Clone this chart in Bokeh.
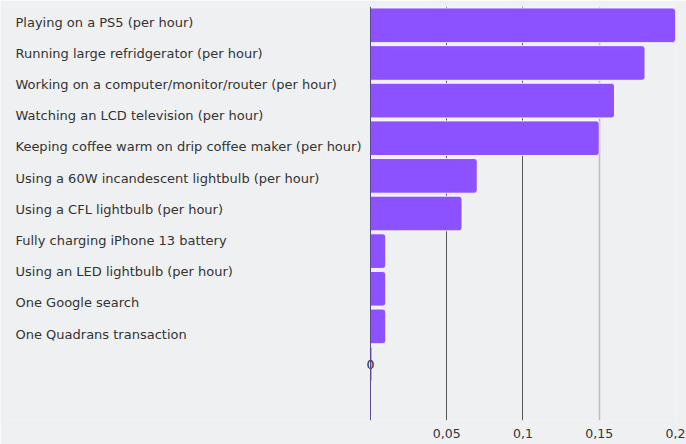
from bokeh.plotting import figure
from bokeh.models import Range1d, FixedTicker, Grid, Span
from bokeh.core.properties import value
from bokeh.embed import file_html
from bokeh.resources import INLINE

# ---- data ----
activities = [
    "Playing on a PS5 (per hour)",
    "Running large refridgerator (per hour)",
    "Working on a computer/monitor/router (per hour)",
    "Watching an LCD television (per hour)",
    "Keeping coffee warm on drip coffee maker (per hour)",
    "Using a 60W incandescent lightbulb (per hour)",
    "Using a CFL lightbulb (per hour)",
    "Fully charging iPhone 13 battery",
    "Using an LED lightbulb (per hour)",
    "One Google search",
    "One Quadrans transaction",
]
kwh = [0.2, 0.18, 0.16, 0.15, 0.07, 0.06, 0.01, 0.01, 0.01, 0.001, 0.0003]
tick_values = [0.05, 0.1, 0.15, 0.2]
tick_labels = ["0,05", "0,1", "0,15", "0,2"]
data_label_category = "One Google search"
data_label_text = "0"

BG = "#EFF0F2"
BAR = "#8C52FF"
FONT = "DejaVu Sans"

n = len(activities)
slots = [i + 0.5 for i in range(n)]

p = figure(
    width=686, height=444,
    y_range=Range1d(n, 0),
    x_range=Range1d(-0.24262, 0.2),
    output_backend="svg", toolbar_location=None,
    min_border_left=0, min_border_right=11, min_border_top=6, min_border_bottom=24,
)
p.background_fill_color = BG
p.border_fill_color = BG
p.outline_line_color = None

p.extra_x_ranges["px"] = Range1d(0, 675)
p.extra_y_ranges["lab"] = Range1d(13.27, 0)

# grid
p.ygrid.visible = False
p.xgrid.ticker = FixedTicker(ticks=[t for t in tick_values if t != 0.15])
p.xgrid.grid_line_color = "#555555"
p.xgrid.grid_line_width = 1
p.add_layout(Grid(dimension=0, ticker=FixedTicker(ticks=[0.15]),
                  grid_line_color="#BDBDBD", grid_line_width=1.5))

# bars
p.hbar(y=slots, left=0, right=kwh, height=0.92,
       fill_color=BAR, line_color="white", line_width=1, line_alpha=0.85,
       border_radius=(0, 3, 3, 0))

# axis line at zero
p.add_layout(Span(location=0, dimension="height", line_color="#5B4696",
                  line_width=1, level="overlay"))

# category labels
p.text(x=[15] * n, y=slots,
       text=activities, x_range_name="px", y_range_name="lab",
       text_font=value(FONT), text_font_size="13px", text_color="#333333",
       text_align="left", text_baseline="middle")

# data label
p.text(x=[0], y=[activities.index(data_label_category) + 0.5], text=[data_label_text],
       text_font=value(FONT), text_font_size="12.5px", text_color="#1A1A1A",
       text_align="center", text_baseline="middle")

# axes
p.yaxis.visible = False
p.xaxis.ticker = FixedTicker(ticks=tick_values)
p.xaxis.major_label_overrides = dict(zip(tick_values, tick_labels))
p.xaxis.axis_line_color = None
p.xaxis.major_tick_line_color = None
p.xaxis.minor_tick_line_color = None
p.xaxis.major_label_standoff = 2
p.xaxis.major_label_text_font = FONT
p.xaxis.major_label_text_font_size = "12.5px"
p.xaxis.major_label_text_color = "#333333"

open("out.html", "w").write(file_html(p, INLINE))
